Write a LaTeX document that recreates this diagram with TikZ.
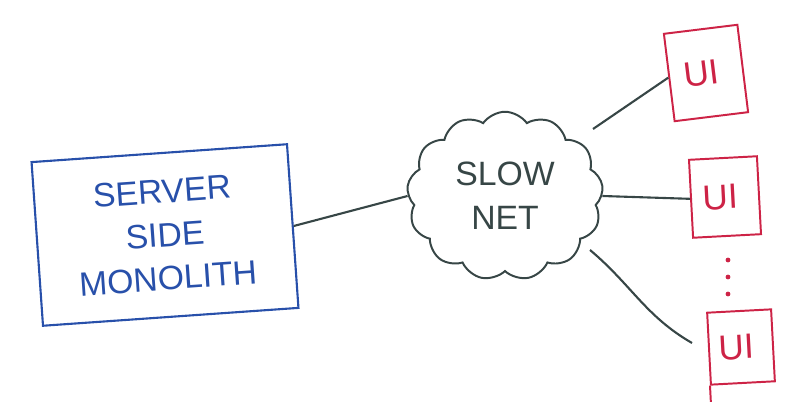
\documentclass[tikz,border=0pt]{standalone}
\usepackage{fontspec}
\setmainfont{Liberation Sans}
\usetikzlibrary{shapes.symbols, calc}
\definecolor{penblue}{RGB}{40,80,170}
\definecolor{penred}{RGB}{205,35,70}
\definecolor{pengray}{RGB}{55,70,70}
\begin{document}
\begin{tikzpicture}[x=0.025cm, y=-0.025cm,
		server/.style={shape=rectangle, draw=penblue, text=penblue, line width=1.5pt, align=center, minimum width=6.4cm, minimum height=4.1cm, font=\fontsize{24}{31}\selectfont},
		net/.style={shape=cloud, cloud puffs=13, cloud puff arc=110, draw=pengray, text=pengray, line width=1.4pt, align=center, minimum width=4.9cm, minimum height=4.1cm, font=\fontsize{24}{31}\selectfont},
		uibox/.style={shape=rectangle, draw=penred, text=penred, line width=1.4pt, align=center, font=\fontsize{25}{28}\selectfont},
		wire/.style={draw=pengray, line width=1.5pt}]
			\useasboundingbox (0,0) rectangle (800,411);
			
			\node (srv)[server, rotate=4] 
			at (165,235){
				SERVER \\ SIDE \\ MONOLITH
			}; 
				
			\node (cloud)[net] 
			at (505,196){
				SLOW \\ NET
			}; 	
			
			\node (ui1)[uibox, rotate=7, minimum width=1.85cm, minimum height=2.2cm] 
			at (706,73){
				UI
			}; 	
			
			\node (ui2)[uibox, rotate=3, minimum width=1.7cm, minimum height=1.95cm] 
			at (725,197){
				UI
			}; 
			
			\node (ui3)[uibox, rotate=3, minimum width=1.6cm, minimum height=1.8cm] 
			at (741,347){
				UI
			}; 
			
			\coordinate (pole) at ($(ui3.north west)!1.22!(ui3.south west)$);
			\coordinate (c1) at (593,129);
			\coordinate (c3) at (590,250);
			\coordinate (u3) at (692,343);
			
			\draw[uibox] (ui3.south west) -- (pole);
			\foreach \y in {260,277,294}
				\fill[penred] (728,\y) circle (1.7pt);
			
			\path[wire] (srv.east) edge (cloud.west);
			\path[wire] (c1) edge (ui1.west);
			\path[wire] (cloud.east) edge (ui2.west);
			\path[wire] (c3) edge[out=-40, in=150] (u3);
		\end{tikzpicture}
\end{document}
